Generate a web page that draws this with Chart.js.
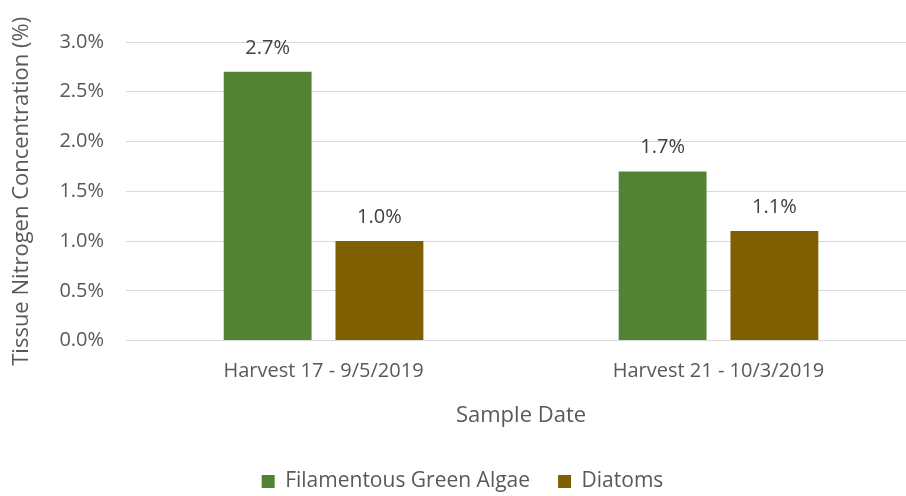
<!DOCTYPE html>
<html>
<head>
<meta charset="utf-8">
<script src="https://cdn.jsdelivr.net/npm/chart.js@4.4.0/dist/chart.umd.min.js"></script>
<style>
  html, body { margin: 0; padding: 0; background: #fff; overflow: hidden; }
  /* plot runs slightly past the right edge of the window, as in the original */
  #wrap { width: 917px; height: 496px; }
</style>
</head>
<body>
<div id="wrap"><canvas id="nitrogenChart"></canvas></div>
<script>
// Tissue nitrogen by sample date
const categories = ['Harvest 17 - 9/5/2019', 'Harvest 21 - 10/3/2019'];
const algaeValues = [2.7, 1.7];
const diatomValues = [1.0, 1.1];
const yTicks = [0, 0.5, 1.0, 1.5, 2.0, 2.5, 3.0];

const colors = {
  green: '#548235',
  brown: '#7F6000',
  grid: '#d9d9d9',
  text: '#595959',
  label: '#404040',
};

const fontFamily = "'Open Sans', 'Liberation Sans', sans-serif";

// draws value labels above each bar
const barLabels = {
  id: 'barLabels',
  afterDatasetsDraw(chart) {
    const ctx = chart.ctx;
    ctx.save();
    ctx.font = '20px ' + fontFamily;
    ctx.fillStyle = colors.label;
    ctx.textAlign = 'center';
    ctx.textBaseline = 'alphabetic';
    chart.data.datasets.forEach((ds, i) => {
      chart.getDatasetMeta(i).data.forEach((bar, j) => {
        ctx.fillText(ds.data[j].toFixed(1) + '%', bar.x, bar.y - 18);
      });
    });
    ctx.restore();
  },
};

new Chart(document.getElementById('nitrogenChart'), {
  type: 'bar',
  data: {
    labels: categories,
    datasets: [
      {
        label: 'Filamentous Green Algae',
        data: algaeValues,
        backgroundColor: colors.green,
        categoryPercentage: 0.566,
        barPercentage: 0.786,
      },
      {
        label: 'Diatoms',
        data: diatomValues,
        backgroundColor: colors.brown,
        categoryPercentage: 0.566,
        barPercentage: 0.786,
      },
    ],
  },
  options: {
    responsive: true,
    maintainAspectRatio: false,
    animation: false,
    layout: {
      padding: { top: 42, right: 1, left: 9, bottom: -6 },
    },
    plugins: {
      legend: {
        position: 'bottom',
        labels: {
          boxWidth: 13,
          boxHeight: 13,
          padding: 28,
          color: colors.text,
          font: { size: 21, family: fontFamily },
        },
      },
      tooltip: { enabled: false },
    },
    scales: {
      x: {
        grid: { display: false },
        border: { color: colors.grid },
        ticks: {
          color: colors.text,
          font: { size: 20, family: fontFamily },
          padding: 11,
        },
        title: {
          display: true,
          text: 'Sample Date',
          color: colors.text,
          font: { size: 22, family: fontFamily },
          padding: { top: 8, bottom: 14 },
        },
      },
      y: {
        min: 0,
        max: 3.0,
        afterBuildTicks: (axis) => {
          axis.ticks = yTicks.map((v) => ({ value: v }));
        },
        grid: { color: colors.grid, drawTicks: false },
        border: { display: false },
        ticks: {
          color: colors.text,
          font: { size: 20, family: fontFamily },
          padding: 22,
          callback: (v) => v.toFixed(1) + '%',
        },
        title: {
          display: true,
          text: 'Tissue Nitrogen Concentration (%)',
          color: colors.text,
          font: { size: 22, family: fontFamily },
          padding: { top: 0, bottom: 2 },
        },
      },
    },
  },
  plugins: [barLabels],
});
</script>
</body>
</html>
